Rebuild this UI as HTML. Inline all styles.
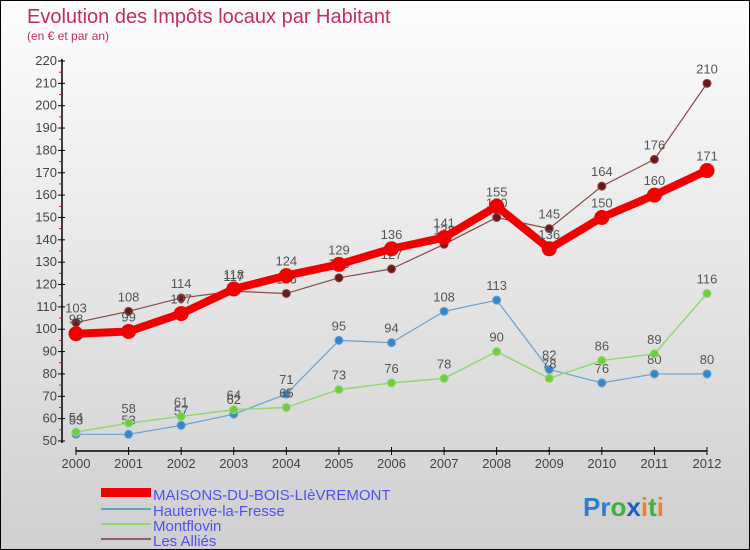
<!DOCTYPE html>
<html><head><meta charset="utf-8"><style>
html,body{margin:0;padding:0}
#wrap{width:748px;height:548px;border:1px solid #000;background:linear-gradient(#fdfdfd,#cfcfcf);position:relative;overflow:hidden;font-family:"Liberation Sans",sans-serif}
svg text{font-family:"Liberation Sans",sans-serif}
</style></head><body>
<div id="wrap">
<svg id="chart" width="748" height="548">
<text x="26" y="22" font-size="20" fill="#c0305a">Evolution des Impôts locaux par Habitant</text>
<text x="26" y="39" font-size="12" fill="#c0305a">(en € et par an)</text>
<g id="axes"></g><g id="series"></g>
<g>
<rect x="100" y="487" width="50" height="9" fill="#f00000"/>
<text x="152" y="499" font-size="15" fill="#5050f0">MAISONS-DU-BOIS-LIèVREMONT</text>
<rect x="100" y="507" width="50" height="2" fill="#6aa0c8"/>
<text x="152" y="515" font-size="15" fill="#5050f0">Hauterive-la-Fresse</text>
<rect x="100" y="522" width="50" height="2" fill="#90d870"/>
<text x="152" y="530" font-size="15" fill="#5050f0">Montflovin</text>
<rect x="100" y="537" width="50" height="2" fill="#906060"/>
<text x="152" y="545" font-size="15" fill="#5050f0">Les Alliés</text>
</g>
<text x="582" y="515" font-size="26" font-weight="bold"><tspan fill="#2a7fd0">Pr</tspan><tspan fill="#40b040">o</tspan><tspan fill="#2060c0">x</tspan><tspan fill="#f08020">i</tspan><tspan fill="#40b040">t</tspan><tspan fill="#f08020">i</tspan></text>
</svg></div>
<script>
const years=[2000,2001,2002,2003,2004,2005,2006,2007,2008,2009,2010,2011,2012];
const maisons=[98,99,107,118,124,129,136,141,155,136,150,160,171];
const hauterive=[53,53,57,62,71,95,94,108,113,82,76,80,80];
const montflovin=[54,58,61,64,65,73,76,78,90,78,86,89,116];
const allies=[103,108,114,117,116,123,127,138,150,145,164,176,210];
const yTicks=[50,60,70,80,90,100,110,120,130,140,150,160,170,180,190,200,210,220];
const NS="http://www.w3.org/2000/svg";
const X=i=>75+i*(706-75)/(years.length-1);
const Y=v=>440-(v-50)*380/170;
function mk(t,a,p){const e=document.createElementNS(NS,t);for(const k in a)e.setAttribute(k,a[k]);p.appendChild(e);return e;}
const ax=document.getElementById('axes');
let e=mk('line',{x1:61,y1:58,x2:61,y2:442,stroke:'#000','stroke-width':1.5},ax);


e=mk('line',{x1:75,y1:450,x2:706,y2:450,stroke:'#000','stroke-width':1.5},ax);


yTicks.forEach((v,i)=>{
 mk('line',{x1:57,y1:Y(v),x2:64,y2:Y(v),stroke:'#000'},ax);
 if(i<yTicks.length-1) mk('line',{x1:58,y1:Y(v+5),x2:61,y2:Y(v+5),stroke:'#f00'},ax);
 const t=mk('text',{x:56,y:Y(v)+4,'font-size':13,'text-anchor':'end',fill:'#444'},ax);t.textContent=v;
 
 
});
years.forEach((y,i)=>{
 mk('line',{x1:X(i),y1:446,x2:X(i),y2:454,stroke:'#000'},ax);
 const t=mk('text',{x:X(i),y:467,'font-size':13,'text-anchor':'middle',fill:'#444'},ax);t.textContent=y;
 
 
});
const sg=document.getElementById('series');
function draw(vals,color,w,r,name,dot){
 const g=mk('g',{},sg);
 
 
 mk('polyline',{points:vals.map((v,i)=>X(i)+','+Y(v)).join(' '),fill:'none',stroke:color,'stroke-width':w,'stroke-linejoin':'round'},g);
 vals.forEach((v,i)=>{
  const c=mk('circle',{cx:X(i),cy:Y(v),r:r,fill:dot,stroke:color,'stroke-width':1},g);
  
  
  const t=mk('text',{x:X(i),y:Y(v)-10,'font-size':13,'text-anchor':'middle',fill:'#555'},g);t.textContent=v;
  
  
 });
}
draw(allies,'#8a4848',1.2,4,'allies','#6a1818');
draw(hauterive,'#6aa0d0',1.2,4,'hauterive','#3388cc');
draw(montflovin,'#90d870',1.5,4,'montflovin','#70cc40');
draw(maisons,'#f00000',8,7,'maisons','#f00000');
</script>
</body></html>
